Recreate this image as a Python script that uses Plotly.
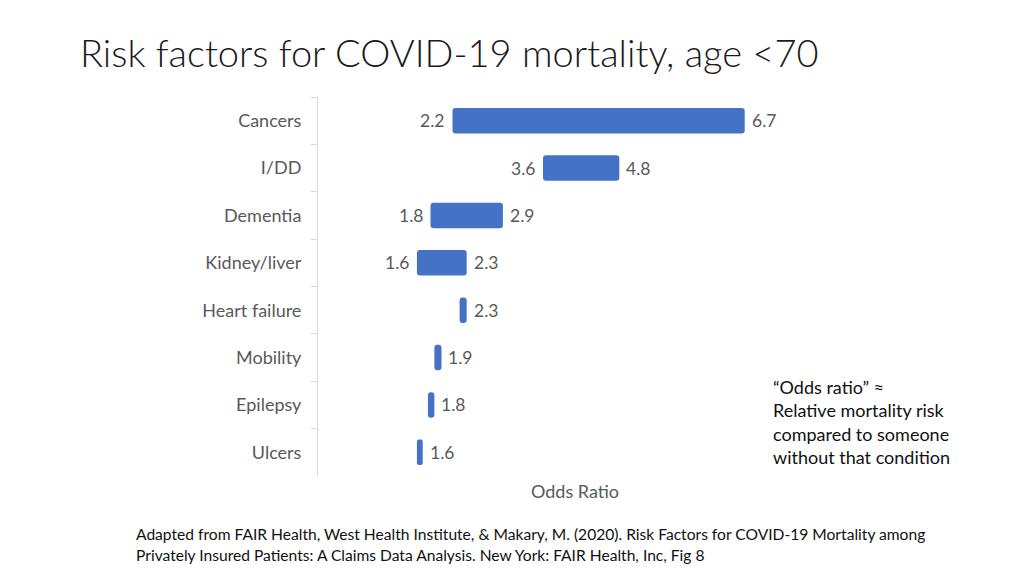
import plotly.graph_objs as go

conditions = ["Cancers", "I/DD", "Dementia", "Kidney/liver", "Heart failure", "Mobility", "Epilepsy", "Ulcers"]
low = [2.19, 3.59, 1.85, 1.64, 2.30, 1.91, 1.81, 1.64]
high = [6.71, 4.77, 2.97, 2.41, 2.41, 2.02, 1.91, 1.73]
low_labels = ["2.2", "3.6", "1.8", "1.6", "", "", "", ""]
high_labels = ["6.7", "4.8", "2.9", "2.3", "2.3", "1.9", "1.8", "1.6"]

note_lines = ["\u201cOdds ratio\u201d \u2248", "Relative mortality risk", "compared to someone", "without that condition"]
source_lines = [
    "Adapted from FAIR Health, West Health Institute, & Makary, M. (2020). Risk Factors for COVID-19 Mortality among",
    "Privately Insured Patients: A Claims Data Analysis. New York: FAIR Health, Inc, Fig 8",
]

FONT = "Lato"
GREY = "#595959"

# page body has an 8px margin, so everything is laid out 8px up/left
OFF = 8
# plot area in page pixels: x 318..832, y 97..476
L, R, T, B = 318 - OFF, 832 - OFF, 97 - OFF, 476 - OFF
W, H = R - L, B - T

def px(x):
    return (x - OFF - L) / W

def py(y):
    return (B - (y - OFF)) / H

fig = go.Figure()
fig.add_trace(go.Bar(
    y=conditions,
    x=[h - l for l, h in zip(low, high)],
    base=low,
    orientation="h",
    marker=dict(color="#4472C4", line=dict(width=0)),
    hoverinfo="skip",
))

annotations = []
for c, l, h, lt, ht in zip(conditions, low, high, low_labels, high_labels):
    if lt:
        annotations.append(dict(x=l, y=c, xref="x", yref="y", text=lt, showarrow=False,
                                xanchor="right", xshift=-6, font=dict(family=FONT, size=17.5, color=GREY)))
    annotations.append(dict(x=h, y=c, xref="x", yref="y", text=ht, showarrow=False,
                            xanchor="left", xshift=5, font=dict(family=FONT, size=17.5, color=GREY)))

annotations.append(dict(x=px(78), y=py(52), xref="paper", yref="paper", xanchor="left", yanchor="middle",
                        text="Risk factors for COVID-19 mortality, age <70", showarrow=False,
                        font=dict(family=FONT, size=38, color="#1a1a1a", weight=300)))

for i, line in enumerate(note_lines):
    annotations.append(dict(x=px(771), y=py(387 + i * 23.3), xref="paper", yref="paper",
                            xanchor="left", yanchor="middle", text=line, showarrow=False,
                            font=dict(family=FONT, size=18, color="#111111")))

for i, line in enumerate(source_lines):
    annotations.append(dict(x=px(134), y=py(534 + i * 21), xref="paper", yref="paper",
                            xanchor="left", yanchor="middle", text=line, showarrow=False,
                            font=dict(family=FONT, size=15.6, color="#111111")))

fig.update_layout(
    width=1024, height=576,
    margin=dict(l=L, r=1024 - R, t=T, b=576 - B, pad=0),
    paper_bgcolor="white", plot_bgcolor="white",
    showlegend=False,
    bargap=0.46,
    barcornerradius=3,
    annotations=annotations,
    font=dict(family=FONT, color=GREY),
)
fig.update_yaxes(
    categoryorder="array", categoryarray=conditions, autorange="reversed",
    showline=True, linecolor="#d9d9d9", linewidth=1,
    ticks="outside", tickson="boundaries", ticklen=6, tickcolor="#d9d9d9",
    ticklabelstandoff=12,
    tickfont=dict(family=FONT, size=18, color=GREY),
    showgrid=False, zeroline=False, fixedrange=True,
)
fig.update_xaxes(
    range=[0.11, 8.06],
    showticklabels=False, showgrid=False, zeroline=False, showline=False, ticks="",
    title=dict(text="Odds Ratio", font=dict(family=FONT, size=18, color=GREY), standoff=9),
    fixedrange=True,
)

fig.write_html("out.html")
